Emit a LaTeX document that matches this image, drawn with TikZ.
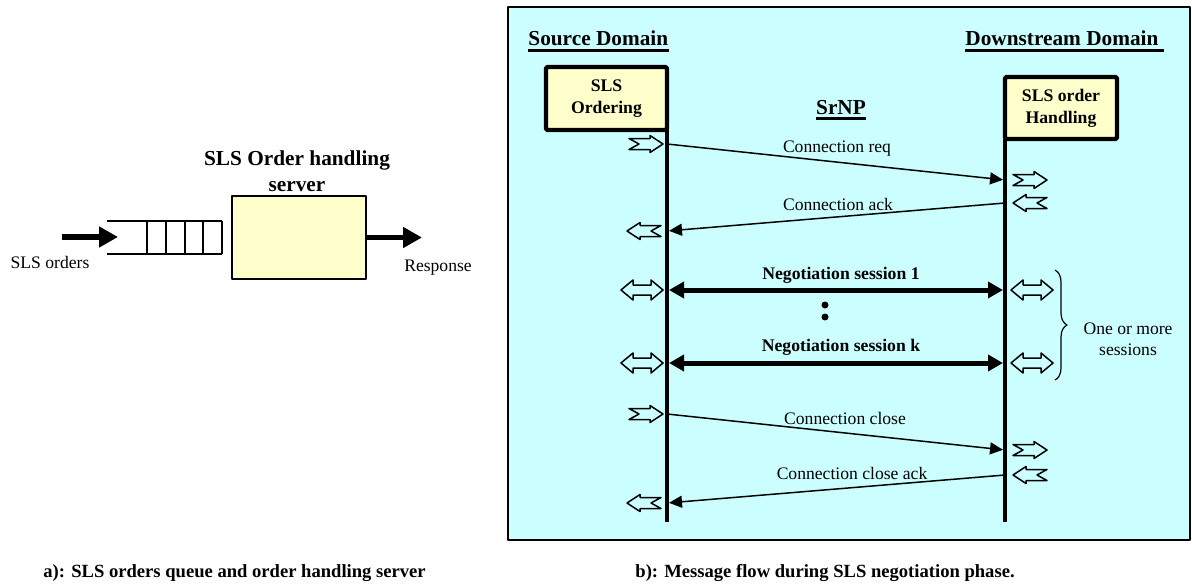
\documentclass[tikz,border=0pt]{standalone}
\usepackage{fontspec}
\setmainfont{Liberation Serif}[BoldFont={Liberation Serif Bold}, ItalicFont={Liberation Serif Italic}]
\usetikzlibrary{arrows.meta,decorations.pathreplacing}
\definecolor{boxyellow}{HTML}{FFFFCC}
\definecolor{panelcyan}{HTML}{CCFFFF}
\begin{document}
\begin{tikzpicture}[x=0.5pt, y=-0.5pt, line join=round, >={Triangle[length=6.5pt,width=6pt]},
	txt/.style={font=\fontsize{8.8}{10.5}\selectfont, inner sep=0pt, align=center},
	bld/.style={font=\fontsize{8.85}{11}\selectfont\bfseries, inner sep=0pt, align=center},
	head/.style={font=\fontsize{10.65}{13}\selectfont\bfseries, inner sep=0pt, align=center},
	caption/.style={font=\fontsize{9.3}{11}\selectfont\bfseries, inner sep=0pt, anchor=west},
	actor/.style={draw, line width=2.2pt, fill=boxyellow, rounded corners=1pt, outer sep=0pt, font=\fontsize{8.85}{11}\selectfont\bfseries, align=center, inner sep=0pt},
	hollow/.style={line width=0.75pt, fill=panelcyan},
	msg/.style={line width=0.75pt, ->, shorten >=1pt},
	session/.style={line width=2.5pt, {Triangle[length=7.5pt,width=8pt]}-{Triangle[length=7.5pt,width=8pt]}, shorten <=1pt, shorten >=1pt},
	flowarrow/.style={line width=2.8pt, -{Triangle[length=9.5pt,width=10pt]}},
	life/.style={line width=2pt}]
	\useasboundingbox (0,0) rectangle (1192,583);
	% a) queue and server
	\node[head] (srvtitle) at (297,171) {SLS Order handling\\server};
	\node[draw, fill=boxyellow, line width=0.6pt, outer sep=0pt, minimum width=67pt, minimum height=41.5pt] (srv) at (299,237.5) {};
	\draw[line width=0.6pt] (107,221) -- (222,221) (107,254) -- (222,254);
	\foreach \x in {147,166,185,203,222} \draw[line width=0.6pt] (\x,221) -- (\x,254);
	\coordinate (ordsrc) at (62,237);
	\coordinate (qin) at (118,237);
	\coordinate (resp) at (422,237.5);
	\draw[flowarrow] (ordsrc) -- (qin);
	\draw[flowarrow] (srv.east) -- (resp);
	\node[txt] (orders) at (50,262) {SLS orders};
	\node[txt] (response) at (438,268) {Response};
	\node[caption] (capa) at (43,573) {a): SLS orders queue and order handling server};
	% b) message flow
	\draw[line width=0.75pt, fill=panelcyan] (508,7) rectangle (1190,540);
	\node[head, anchor=base west] (srcdom) at (528,45.6) {Source Domain};
	\node[head, anchor=base west] (dsdom) at (965,45.6) {Downstream Domain};
	\node[head, anchor=base] (srnp) at (841,114) {SrNP};
	\draw[line width=1.5pt] ([yshift=-1.9pt]srcdom.south west) -- ([yshift=-1.9pt]srcdom.south east);
	\draw[line width=1.5pt] ([yshift=-1.9pt]dsdom.south west) -- ([xshift=2.5pt,yshift=-1.9pt]dsdom.south east);
	\draw[line width=1.5pt] ([yshift=-1.9pt]srnp.south west) -- ([yshift=-1.9pt]srnp.south east);
	\node[actor, minimum width=60.5pt, minimum height=31.5pt] (ord) at (606.5,98.5) {SLS\\Ordering};
	\node[actor, minimum width=56pt, minimum height=31pt] (hdl) at (1061,108) {SLS order\\Handling};
	\coordinate (srcend) at (667,522);
	\coordinate (dsend) at (1005,522);
	\foreach \n/\ys/\yd in {1/144/180, 2/231/203, 3/290/290, 4/363/363, 5/414/450, 6/503/475}{
		\coordinate (s\n) at (667,\ys);
		\coordinate (d\n) at (1005,\yd);}
	\draw[msg] (s1) -- (d1);
	\draw[msg] (d2) -- (s2);
	\draw[session] (s3) -- (d3);
	\draw[session] (s4) -- (d4);
	\draw[msg] (s5) -- (d5);
	\draw[msg] (d6) -- (s6);
	\draw[life] (ord.south east) -- (srcend);
	\draw[life] (hdl.south west) -- (dsend);
	\node[txt] (lreq) at (837,149) {Connection req};
	\node[txt] (lack) at (838,204) {Connection ack};
	\node[bld] (lneg1) at (841,275) {Negotiation session 1};
	\node[bld] (lnegk) at (841,347) {Negotiation session k};
	\node[txt] (lclose) at (845,418) {Connection close};
	\node[txt] (lcack) at (852,473) {Connection close ack};
	\fill (825,305) circle (1.75pt) (825,317) circle (1.75pt);
	\foreach \x/\y in {646/144, 1030/180, 646/414, 1030/450}
		\draw[hollow, shift={(\x,\y)}] (-17,-5.5) -- (4,-5.5) -- (4,-8.5) -- (17,0) -- (4,8.5) -- (4,5.5) -- (-17,5.5) -- (-7,0) -- cycle;
	\foreach \x/\y in {644/231, 1030/203, 644/503, 1030/475}
		\draw[hollow, shift={(\x,\y)}] (17,-5.5) -- (-4,-5.5) -- (-4,-8.5) -- (-17,0) -- (-4,8.5) -- (-4,5.5) -- (17,5.5) -- (7,0) -- cycle;
	\foreach \x/\y in {642/290, 1032/290, 642/363, 1032/363}
		\draw[hollow, shift={(\x,\y)}] (-21,0) -- (-9,-10) -- (-9,-5) -- (9,-5) -- (9,-10) -- (21,0) -- (9,10) -- (9,5) -- (-9,5) -- (-9,10) -- cycle;
	\coordinate (bt) at (1055,270);
	\coordinate (bb) at (1055,380);
	\draw[line width=0.6pt, decorate, decoration={brace, amplitude=6pt}] (bt) -- (bb);
	\node[txt] (more) at (1128,339.5) {One or more\\sessions};
	\node[caption] (capb) at (635,573) {b): Message flow during SLS negotiation phase.};
\end{tikzpicture}
\end{document}
